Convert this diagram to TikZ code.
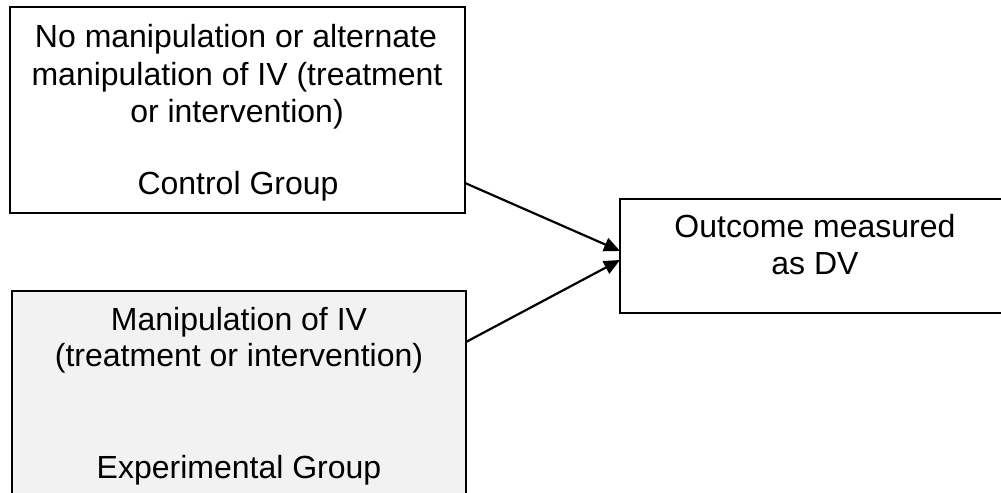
\documentclass[tikz,border=0pt]{standalone}
\usepackage{fontspec}
\setmainfont{Liberation Sans}
\usetikzlibrary{arrows.meta}
\begin{document}
\begin{tikzpicture}[x=1bp,y=-1bp,
  box/.style={draw=black,line width=1.6bp,minimum width=#1,inner sep=0pt,outer sep=0pt},
  txt/.style={anchor=base,inner sep=0pt,font=\fontsize{32bp}{37.5bp}\selectfont},
  arr/.style={line width=2.2bp,-{Triangle[length=16bp,width=14bp]}}]
\useasboundingbox (0,0) rectangle (1001,493);
\clip (0,0) rectangle (1001,493);
\node[box=455bp,minimum height=206bp] (ctrl) at (237.5,110) {};
\node[box=454bp,minimum height=229bp,fill={rgb,255:red,242;green,242;blue,242}] (exp) at (239,405.5) {};
\node[box=410bp,minimum height=114bp] (out) at (825,256) {};
% control texts
\node[txt] (c1) at (236,48) {No manipulation or alternate};
\node[txt] (c2) at (237,86) {manipulation of IV (treatment};
\node[txt] (c3) at (237,123) {or intervention)};
\node[txt] (c4) at (238,195) {Control Group};
% experimental texts
\node[txt] (e1) at (239,331) {Manipulation of IV};
\node[txt] (e2) at (239,367) {(treatment or intervention)};
\node[txt] (e3) at (239,478) {Experimental Group};
% outcome texts
\node[txt] (o1) at (815,238) {Outcome measured};
\node[txt] (o2) at (815,275) {as DV};
% connectors
\draw[arr] ([yshift=-73bp]ctrl.east) -- ([yshift=5bp]out.west);
\draw[arr] ([yshift=63.5bp]exp.east) -- ([yshift=-4bp]out.west);
\end{tikzpicture}
\end{document}
